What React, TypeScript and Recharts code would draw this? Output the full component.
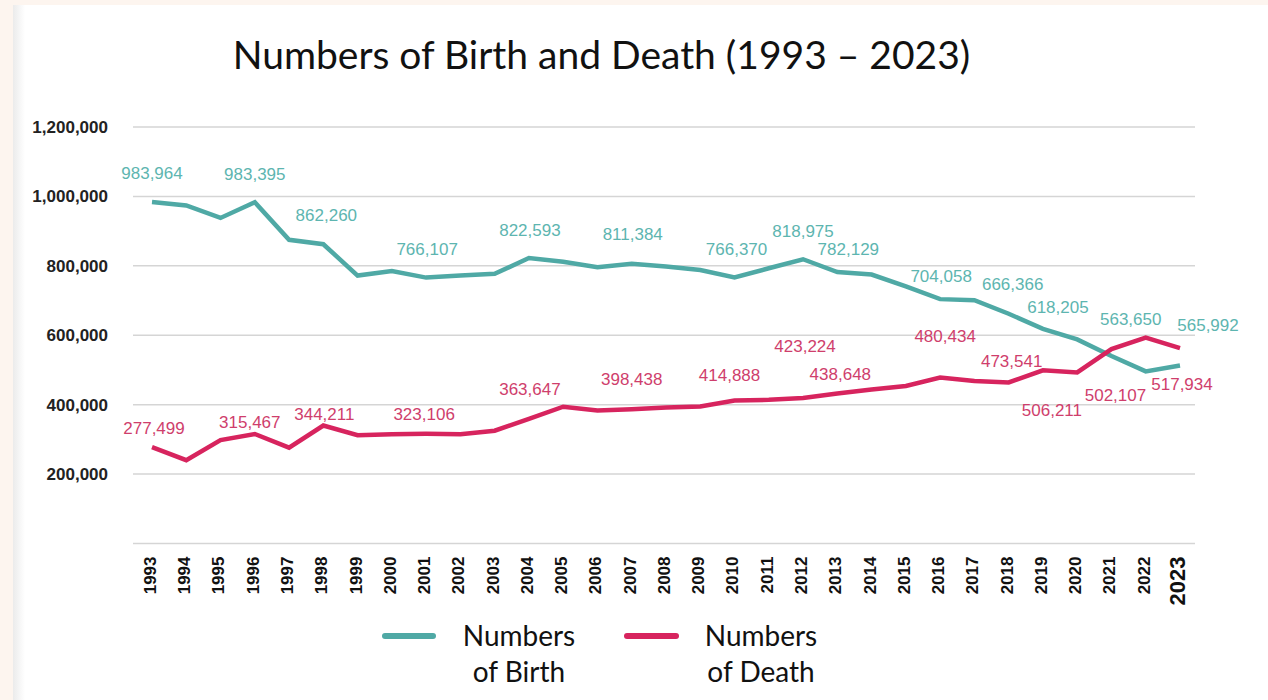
import React from "react";
import { LineChart, Line, XAxis, YAxis, CartesianGrid, LabelList } from "recharts";

const years = [
  1993, 1994, 1995, 1996, 1997, 1998, 1999, 2000, 2001, 2002, 2003, 2004, 2005, 2006, 2007, 2008,
  2009, 2010, 2011, 2012, 2013, 2014, 2015, 2016, 2017, 2018, 2019, 2020, 2021, 2022, 2023,
];

const births = [
  983964, 974000, 938000, 983395, 875000, 862260, 772000, 785000, 766107, 772000, 777000, 822593,
  812000, 796000, 806000, 798000, 788000, 766370, 793000, 818975, 782129, 775000, 741000, 704058,
  701000, 662000, 618205, 588000, 540000, 496000, 513000,
];

const deaths = [
  277499, 240000, 298000, 315467, 276000, 340000, 312000, 315000, 316000, 315000, 325000, 359000,
  394000, 383000, 387000, 392000, 395000, 412000, 414000, 419000, 432000, 444000, 454000, 478000,
  468000, 464000, 499000, 493000, 560000, 593000, 563000,
];

// value labels as printed on the original chart
const birthLabels: Record<number, string> = {
  1993: "983,964",
  1996: "983,395",
  1998: "862,260",
  2001: "766,107",
  2004: "822,593",
  2007: "811,384",
  2010: "766,370",
  2012: "818,975",
  2013: "782,129",
  2016: "704,058",
  2018: "666,366",
  2019: "618,205",
  2022: "563,650",
  2023: "565,992",
};

const deathLabels: Record<number, string> = {
  1993: "277,499",
  1996: "315,467",
  1998: "344,211",
  2001: "323,106",
  2004: "363,647",
  2007: "398,438",
  2010: "414,888",
  2012: "423,224",
  2013: "438,648",
  2016: "480,434",
  2018: "473,541",
  2019: "506,211",
  2021: "502,107",
  2023: "517,934",
};

const yTicks = [0, 200000, 400000, 600000, 800000, 1000000, 1200000];

const data = years.map((year, i) => ({ year, birth: births[i], death: deaths[i] }));

// label offsets from the point, in px
const birthOffset: Record<number, [number, number]> = {
  1993: [0, -28], 1996: [0, -28], 1998: [3, -29], 2001: [1, -28], 2004: [1, -27], 2007: [1, -29],
  2010: [2, -28], 2012: [0, -28], 2013: [11, -23], 2016: [1, -23], 2018: [4, -29], 2019: [15, -21],
  2022: [-15, -52], 2023: [28, -40],
};
const deathOffset: Record<number, [number, number]> = {
  1993: [2, -19], 1996: [-5, -12], 1998: [1, -11], 2001: [-2, -19], 2004: [1, -29], 2007: [0, -30],
  2010: [-5, -25], 2012: [2, -52], 2013: [3, -19], 2016: [5, -41], 2018: [3, -21], 2019: [9, 40],
  2021: [4, 46], 2023: [2, 36],
};

const BIRTH = "#4fa9a5";
const DEATH = "#d7245e";
const FONT = "'Liberation Sans', Arial, Helvetica, sans-serif";
const TITLE_FONT = "Lato, 'Noto Sans', sans-serif";

const makeLabel = (labels: Record<number, string>, offsets: Record<number, [number, number]>, color: string) =>
  (props: any) => {
    const { x, y, index } = props;
    const yr = years[index];
    const text = labels[yr];
    if (!text || x == null || y == null) return null;
    const [dx, dy] = offsets[yr] || [0, -28];
    return (
      <text
        x={x + dx}
        y={y + dy}
        textAnchor="middle"
        dominantBaseline="central"
        fontFamily={FONT}
        fontSize={17}
        fill={color}
      >
        {text}
      </text>
    );
  };

const YearTick = (props: any) => {
  const { x, y, payload } = props;
  const last = payload.value === 2023;
  const cx = x - (last ? 3 : 2);
  return (
    <text
      x={cx}
      y={y}
      transform={`rotate(-90, ${cx}, ${y})`}
      textAnchor="end"
      dy="0.35em"
      fontFamily={FONT}
      fontWeight="bold"
      fontSize={last ? 22 : 17}
      fill="#111"
    >
      {payload.value}
    </text>
  );
};

const LegendItem = ({ color, left, swatchWidth, textCenter, line1, line2 }: any) => (
  <>
    <svg
      style={{ position: "absolute", left, top: 630 }}
      width={swatchWidth + 6}
      height={12}
    >
      <line x1={3} y1={6} x2={swatchWidth + 3} y2={6} stroke={color} strokeWidth={6} strokeLinecap="round" />
    </svg>
    <div
      style={{
        position: "absolute",
        left: textCenter - 80,
        width: 160,
        top: 617,
        textAlign: "center",
        fontFamily: TITLE_FONT,
        fontSize: 28,
        lineHeight: "36px",
        color: "#111",
      }}
    >
      {line1}
      <br />
      {line2}
    </div>
  </>
);

export default function App() {
  return (
    <div style={{ position: "absolute", left: 0, top: 0, width: 1268, height: 700, background: "#fdf5ef", overflow: "hidden" }}>
      <div
        style={{
          position: "absolute",
          left: 13,
          top: 5,
          right: 0,
          bottom: 0,
          background: "linear-gradient(to right, #ebebeb 0px, #ffffff 12px)",
        }}
      />
      <div
        style={{
          position: "absolute",
          left: 0,
          width: 1203,
          top: 31,
          textAlign: "center",
          fontFamily: TITLE_FONT,
          fontSize: 39,
          lineHeight: 1.2,
          color: "#111",
          whiteSpace: "nowrap",
        }}
      >
        Numbers of Birth and Death (1993 – 2023)
      </div>
      <div style={{ position: "absolute", left: 0, top: 0 }}>
        <LineChart width={1268} height={700} data={data} margin={{ top: 127, right: 73, left: 0, bottom: 90 }}>
          <CartesianGrid vertical={false} stroke="#d5d5d5" strokeWidth={1.5} />
          <XAxis
            dataKey="year"
            interval={0}
            padding={{ left: 19, right: 15 }}
            axisLine={false}
            tickLine={false}
            tickSize={0}
            tickMargin={13}
            height={66.5}
            tick={<YearTick />}
          />
          <YAxis
            domain={[0, 1200000]}
            ticks={yTicks}
            width={133}
            axisLine={false}
            tickLine={false}
            tickSize={0}
            tickMargin={25}
            tickFormatter={(v: number) => (v === 0 ? "" : v.toLocaleString("en-US"))}
            tick={{ fontFamily: FONT, fontSize: 17, fontWeight: "bold", fill: "#222" }}
          />
          <Line
            type="linear"
            dataKey="birth"
            stroke={BIRTH}
            strokeWidth={4.5}
            dot={false}
            isAnimationActive={false}
          >
            <LabelList dataKey="birth" content={makeLabel(birthLabels, birthOffset, "#5db5b0")} />
          </Line>
          <Line
            type="linear"
            dataKey="death"
            stroke={DEATH}
            strokeWidth={4.5}
            dot={false}
            isAnimationActive={false}
          >
            <LabelList dataKey="death" content={makeLabel(deathLabels, deathOffset, "#cf3e6c")} />
          </Line>
        </LineChart>
      </div>
      <LegendItem color={BIRTH} left={382} swatchWidth={48} textCenter={519} line1="Numbers" line2="of Birth" />
      <LegendItem color={DEATH} left={624} swatchWidth={49} textCenter={761} line1="Numbers" line2="of Death" />
    </div>
  );
}
